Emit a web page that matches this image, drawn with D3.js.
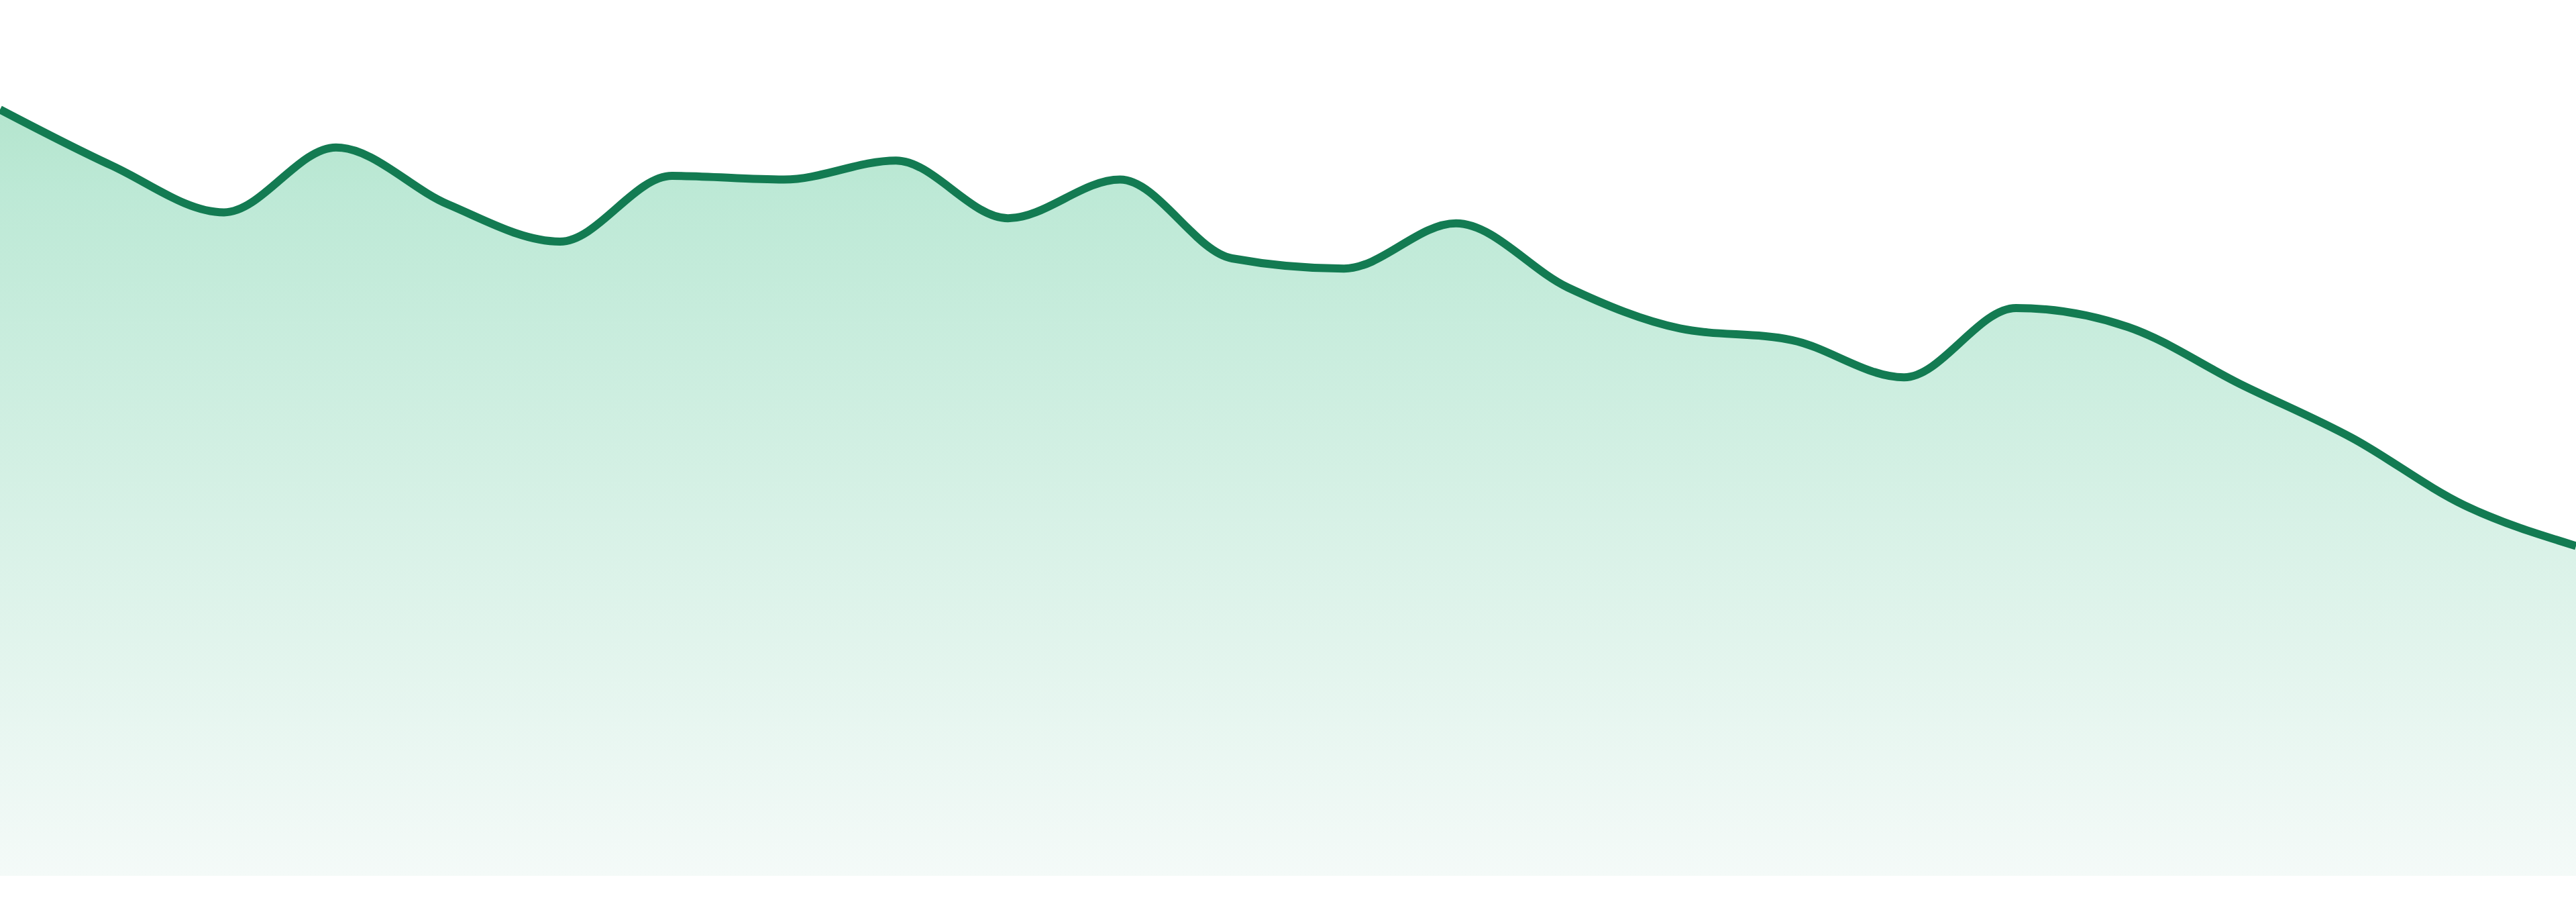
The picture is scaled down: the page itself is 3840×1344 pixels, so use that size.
<!DOCTYPE html>
<html>
<head>
<meta charset="utf-8">
<script src="https://cdn.jsdelivr.net/npm/d3@7"></script>
<style>
    html, body { margin: 0; padding: 0; background: #fff; overflow: hidden; }
    #d3_wrapper { width: 100vw; height: 100vh; }
    #d3_wrapper svg { display: block; }
    .line { fill: none; stroke-width: 12; }
</style>
</head>
<body>
<div id="d3_wrapper"></div>
<script>
// categories (one per point) and the series values
const days = [1, 2, 3, 4, 5, 6, 7, 8, 9, 10, 11, 12, 13, 14, 15, 16, 17, 18, 19, 20, 21, 22, 23, 24]
const values = [105.0, 97.3, 90.9, 99.8, 92.0, 86.9, 95.9, 95.4, 98.0, 90.1, 95.4, 84.6,
    83.2, 89.4, 80.6, 75.0, 73.4, 68.3, 77.8, 75.2, 67.4, 60.0, 50.8, 45.2]
const yDomain = [0, 120]

function drawGraphic() {
    if (document.querySelector("#d3_wrapper svg")) {
        return true
    }

    const data = days.map((d, i) => ({ day: d, value: values[i] }))

    const wrapper = d3.select("#d3_wrapper")

    // Dimensão do gráfico
    const width = 3840,
        height = 1344,
        bottom = 1305

    const svg = wrapper
        .append("svg")
        .attr("width", "100%")
        .attr("height", "100%")
        .attr("viewBox", "0 0 " + width + " " + height)
        .attr("preserveAspectRatio", "none")

    // Escalas
    const x = d3.scalePoint().domain(days).range([0, width]).padding(0)
    const y = d3.scaleLinear().domain(yDomain).range([bottom, 0])

    // Gradiente da área
    const grad = svg.append("defs").append("linearGradient")
        .attr("id", "areaFill")
        .attr("gradientUnits", "userSpaceOnUse")
        .attr("x1", 0).attr("x2", 0)
        .attr("y1", y(d3.max(values))).attr("y2", bottom)
    grad.append("stop").attr("offset", "0%").attr("stop-color", "#b4e5ce")
    grad.append("stop").attr("offset", "11%").attr("stop-color", "#bde9d6")
    grad.append("stop").attr("offset", "100%").attr("stop-color", "#f4faf8")

    // Área
    svg.append("path")
        .datum(data)
        .attr("fill", "url(#areaFill)")
        .attr("d", d3.area()
            .curve(d3.curveMonotoneX)
            .x(d => x(d.day))
            .y0(bottom)
            .y1(d => y(d.value)))

    // Linha
    svg.append("path")
        .datum(data)
        .attr("class", "line")
        .style("stroke", "#137b52")
        .attr("d", d3.line()
            .curve(d3.curveMonotoneX)
            .x(d => x(d.day))
            .y(d => y(d.value)))
}

window.addEventListener("load", drawGraphic);
</script>
</body>
</html>
